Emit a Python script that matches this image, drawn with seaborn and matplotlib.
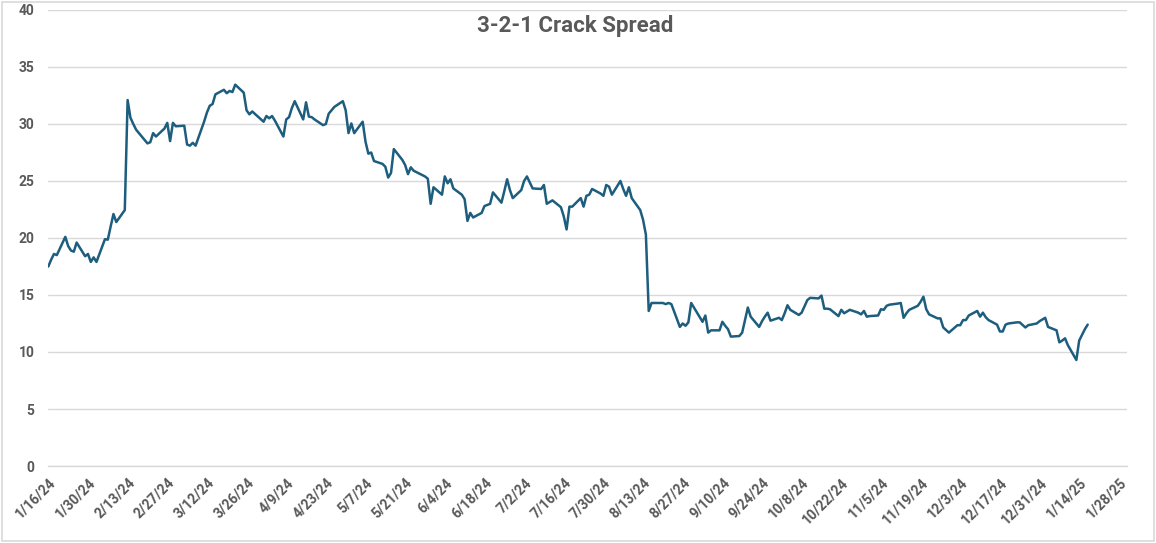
import pandas as pd
import matplotlib
matplotlib.use("Agg")
import matplotlib.pyplot as plt
import matplotlib.dates as mdates
from matplotlib.patches import Rectangle
import seaborn as sns

# Data (trading days, $/bbl)
dates = [
    "2024-01-16", "2024-01-17", "2024-01-18", "2024-01-19", "2024-01-22", "2024-01-23", "2024-01-24",
    "2024-01-25", "2024-01-26", "2024-01-29", "2024-01-30", "2024-01-31", "2024-02-01", "2024-02-02",
    "2024-02-05", "2024-02-06", "2024-02-07", "2024-02-08", "2024-02-09", "2024-02-12", "2024-02-13",
    "2024-02-14", "2024-02-15", "2024-02-16", "2024-02-20", "2024-02-21", "2024-02-22", "2024-02-23",
    "2024-02-26", "2024-02-27", "2024-02-28", "2024-02-29", "2024-03-01", "2024-03-04", "2024-03-05",
    "2024-03-06", "2024-03-07", "2024-03-08", "2024-03-11", "2024-03-12", "2024-03-13", "2024-03-14",
    "2024-03-15", "2024-03-18", "2024-03-19", "2024-03-20", "2024-03-21", "2024-03-22", "2024-03-25",
    "2024-03-26", "2024-03-27", "2024-03-28", "2024-04-01", "2024-04-02", "2024-04-03", "2024-04-04",
    "2024-04-05", "2024-04-08", "2024-04-09", "2024-04-10", "2024-04-11", "2024-04-12", "2024-04-15",
    "2024-04-16", "2024-04-17", "2024-04-18", "2024-04-19", "2024-04-22", "2024-04-23", "2024-04-24",
    "2024-04-25", "2024-04-26", "2024-04-29", "2024-04-30", "2024-05-01", "2024-05-02", "2024-05-03",
    "2024-05-06", "2024-05-07", "2024-05-08", "2024-05-09", "2024-05-10", "2024-05-13", "2024-05-14",
    "2024-05-15", "2024-05-16", "2024-05-17", "2024-05-20", "2024-05-21", "2024-05-22", "2024-05-23",
    "2024-05-24", "2024-05-28", "2024-05-29", "2024-05-30", "2024-05-31", "2024-06-03", "2024-06-04",
    "2024-06-05", "2024-06-06", "2024-06-07", "2024-06-10", "2024-06-11", "2024-06-12", "2024-06-13",
    "2024-06-14", "2024-06-17", "2024-06-18", "2024-06-20", "2024-06-21", "2024-06-24", "2024-06-25",
    "2024-06-26", "2024-06-27", "2024-06-28", "2024-07-01", "2024-07-02", "2024-07-03", "2024-07-05",
    "2024-07-08", "2024-07-09", "2024-07-10", "2024-07-11", "2024-07-12", "2024-07-15", "2024-07-16",
    "2024-07-17", "2024-07-18", "2024-07-19", "2024-07-22", "2024-07-23", "2024-07-24", "2024-07-25",
    "2024-07-26", "2024-07-29", "2024-07-30", "2024-07-31", "2024-08-01", "2024-08-02", "2024-08-05",
    "2024-08-06", "2024-08-07", "2024-08-08", "2024-08-09", "2024-08-12", "2024-08-13", "2024-08-14",
    "2024-08-15", "2024-08-16", "2024-08-19", "2024-08-20", "2024-08-21", "2024-08-22", "2024-08-23",
    "2024-08-26", "2024-08-27", "2024-08-28", "2024-08-29", "2024-08-30", "2024-09-03", "2024-09-04",
    "2024-09-05", "2024-09-06", "2024-09-09", "2024-09-10", "2024-09-11", "2024-09-12", "2024-09-13",
    "2024-09-16", "2024-09-17", "2024-09-18", "2024-09-19", "2024-09-20", "2024-09-23", "2024-09-24",
    "2024-09-25", "2024-09-26", "2024-09-27", "2024-09-30", "2024-10-01", "2024-10-02", "2024-10-03",
    "2024-10-04", "2024-10-07", "2024-10-08", "2024-10-09", "2024-10-10", "2024-10-11", "2024-10-14",
    "2024-10-15", "2024-10-16", "2024-10-17", "2024-10-18", "2024-10-21", "2024-10-22", "2024-10-23",
    "2024-10-24", "2024-10-25", "2024-10-28", "2024-10-29", "2024-10-30", "2024-10-31", "2024-11-01",
    "2024-11-04", "2024-11-05", "2024-11-06", "2024-11-07", "2024-11-08", "2024-11-11", "2024-11-12",
    "2024-11-13", "2024-11-14", "2024-11-15", "2024-11-18", "2024-11-19", "2024-11-20", "2024-11-21",
    "2024-11-22", "2024-11-25", "2024-11-26", "2024-11-27", "2024-11-29", "2024-12-02", "2024-12-03",
    "2024-12-04", "2024-12-05", "2024-12-06", "2024-12-09", "2024-12-10", "2024-12-11", "2024-12-12",
    "2024-12-13", "2024-12-16", "2024-12-17", "2024-12-18", "2024-12-19", "2024-12-20", "2024-12-23",
    "2024-12-24", "2024-12-26", "2024-12-27", "2024-12-30", "2024-12-31", "2025-01-02", "2025-01-03",
    "2025-01-06", "2025-01-07", "2025-01-08", "2025-01-09", "2025-01-10", "2025-01-13", "2025-01-14",
    "2025-01-15", "2025-01-16", "2025-01-17",
]
spread = [
    17.5, 18.1, 18.6, 18.5, 20.1, 19.3, 18.9,
    18.8, 19.6, 18.4, 18.6, 17.9, 18.3, 17.9,
    19.9, 19.85, 21.0, 22.1, 21.4, 22.45, 32.1,
    30.55, 30.0, 29.5, 28.3, 28.4, 29.2, 28.9,
    29.6, 30.1, 28.5, 30.1, 29.8, 29.85, 28.2,
    28.1, 28.35, 28.1, 30.2, 31.0, 31.6, 31.75,
    32.6, 33.0, 32.7, 32.9, 32.8, 33.45, 32.75,
    31.2, 30.85, 31.1, 30.2, 30.7, 30.5, 30.7,
    30.3, 28.9, 30.4, 30.6, 31.4, 32.0, 30.4,
    31.9, 30.65, 30.6, 30.4, 29.9, 30.0, 30.9,
    31.2, 31.5, 32.0, 31.2, 29.2, 30.05, 29.2,
    30.2, 28.45, 27.4, 27.5, 26.75, 26.5, 26.25,
    25.3, 25.7, 27.8, 26.85, 26.4, 25.6, 26.2,
    25.9, 25.4, 25.2, 23.0, 24.45, 23.8, 25.4,
    24.8, 25.15, 24.35, 23.8, 23.4, 21.5, 22.2,
    21.8, 22.2, 22.8, 23.0, 24.0, 23.1, 24.1,
    25.15, 24.2, 23.5, 24.2, 25.0, 25.4, 24.35,
    24.3, 24.65, 23.0, 23.15, 23.3, 22.7, 21.9,
    20.75, 22.75, 22.75, 23.5, 22.75, 23.7, 23.8,
    24.3, 23.9, 23.7, 24.65, 24.5, 23.8, 25.0,
    24.3, 23.7, 24.45, 23.5, 22.45, 21.6, 20.3,
    13.6, 14.3, 14.3, 14.3, 14.2, 14.3, 14.2,
    12.2, 12.5, 12.3, 12.6, 14.3, 12.65, 13.2,
    11.7, 11.9, 11.9, 12.65, 12.3, 12.0, 11.35,
    11.4, 11.7, 12.8, 13.9, 13.1, 12.2, 12.7,
    13.1, 13.45, 12.75, 13.0, 12.8, 13.4, 14.1,
    13.7, 13.25, 13.45, 14.0, 14.55, 14.75, 14.7,
    14.95, 13.8, 13.8, 13.75, 13.15, 13.7, 13.4,
    13.55, 13.7, 13.45, 13.3, 13.6, 13.1, 13.15,
    13.2, 13.75, 13.7, 14.05, 14.15, 14.25, 14.3,
    13.0, 13.4, 13.7, 14.05, 14.4, 14.85, 13.75,
    13.3, 12.95, 12.95, 12.15, 11.7, 12.35, 12.35,
    12.8, 12.8, 13.2, 13.6, 13.1, 13.45, 13.05,
    12.8, 12.4, 11.8, 11.8, 12.4, 12.5, 12.6,
    12.6, 12.15, 12.35, 12.5, 12.7, 13.0, 12.2,
    11.9, 10.85, 11.0, 11.2, 10.6, 9.3, 11.0,
    11.5, 12.0, 12.4,
]
tick_dates = pd.date_range("2024-01-16", "2025-01-28", freq="14D")
y_ticks = [0, 5, 10, 15, 20, 25, 30, 35, 40]

df = pd.DataFrame({"date": pd.to_datetime(dates), "spread": spread})

sns.set_style("white")
plt.rcParams["font.family"] = ["Roboto", "DejaVu Sans"]

text_color = "#595959"
grid_color = "#D9D9D9"
line_color = "#1D5D7E"

fig = plt.figure(figsize=(11.56, 5.43), dpi=100)
ax = fig.add_axes([0.0418, 0.1418, 0.9334, 0.8398])

sns.lineplot(data=df, x="date", y="spread", ax=ax, color=line_color, linewidth=1.8)

ax.set_xlim(pd.Timestamp("2024-01-16"), pd.Timestamp("2025-01-31"))
ax.set_ylim(0, 40)
ax.set_yticks(y_ticks)
ax.set_xticks(tick_dates)
ax.xaxis.set_major_formatter(mdates.DateFormatter("%-m/%-d/%y"))

ax.grid(axis="y", color=grid_color, linewidth=1.0)
ax.set_axisbelow(True)
for side in ["left", "right", "top"]:
    ax.spines[side].set_visible(False)
ax.spines["bottom"].set_color(grid_color)
ax.spines["bottom"].set_linewidth(1.0)

ax.tick_params(axis="x", colors=grid_color, length=5, width=1, direction="out", pad=2,
               labelcolor=text_color, labelsize=10)
ax.tick_params(axis="y", length=0, labelcolor=text_color, labelsize=10, pad=10)
for lbl in ax.get_xticklabels():
    lbl.set_rotation(45)
    lbl.set_ha("right")
    lbl.set_rotation_mode("anchor")
    lbl.set_fontweight("bold")
for lbl in ax.get_yticklabels():
    lbl.set_fontweight("bold")

ax.set_xlabel("")
ax.set_ylabel("")

fig.text(0.4975, 0.953, "3-2-1 Crack Spread", ha="center", va="center",
         fontsize=16, fontweight="bold", color=text_color)

# chart border
fig.patches.append(Rectangle((0.002, 0.004), 0.996, 0.992, transform=fig.transFigure,
                             fill=False, edgecolor=grid_color, linewidth=1.2))

fig.savefig("out.png", dpi=100)
